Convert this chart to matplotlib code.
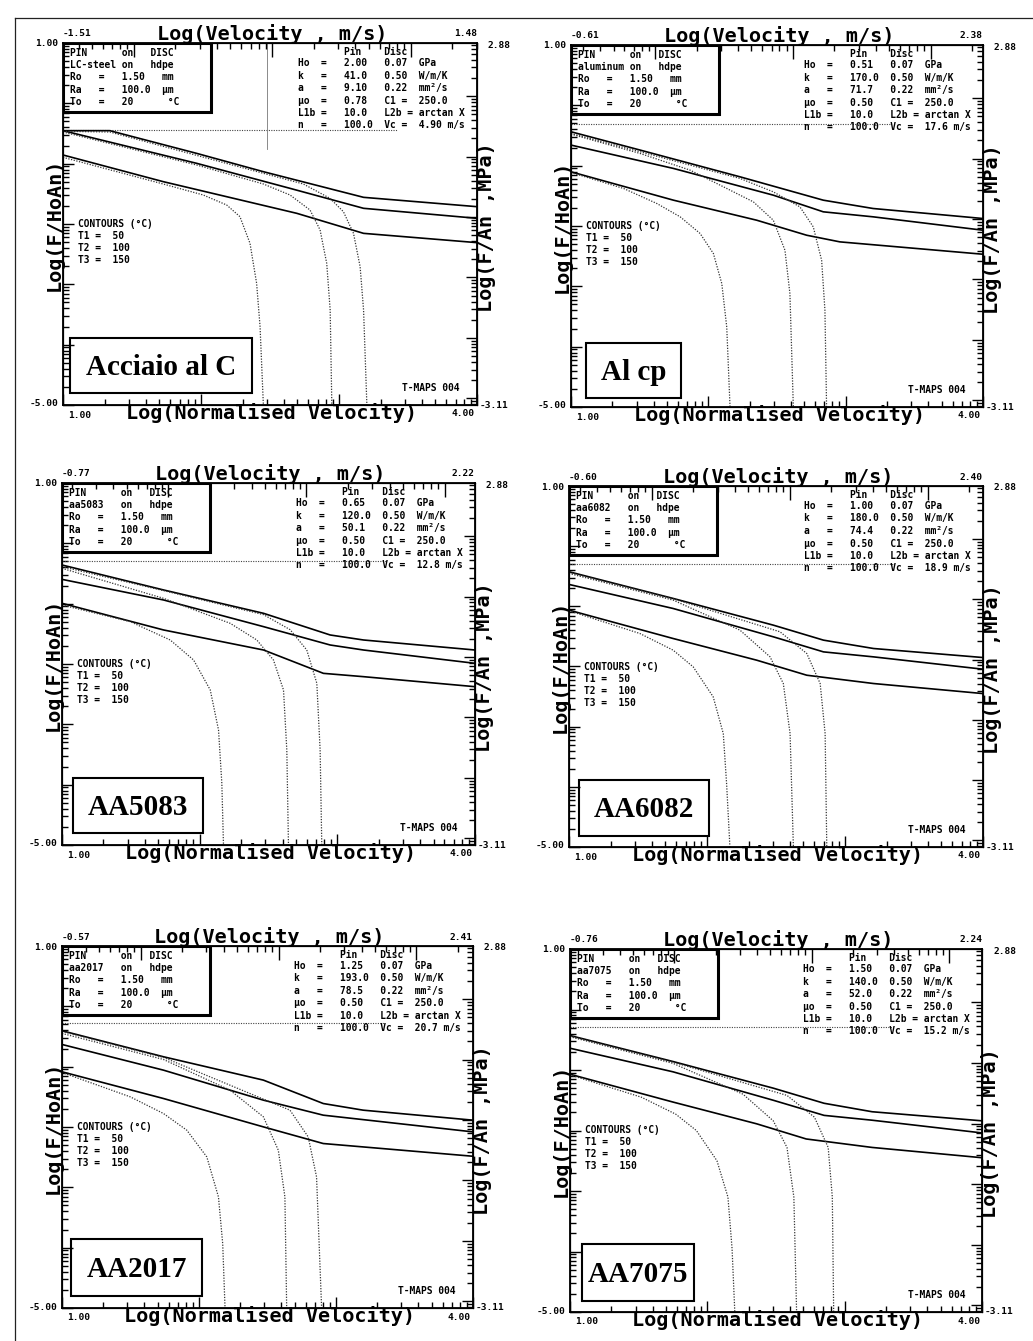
import matplotlib.pyplot as plt
import numpy as np
from matplotlib.patches import Rectangle
from matplotlib.lines import Line2D

W, H = 1033, 1341
MONO = 'DejaVu Sans Mono'
SERIF = 'Liberation Serif'

# campi degli assi (pixel: sinistra, alto, destra, basso)
boxes = [(63, 43, 477, 405), (571, 45, 983, 407),
         (62, 483, 475, 845), (569, 486, 983, 847),
         (62, 946, 473, 1308), (570, 949, 982, 1312)]

labels = ["Acciaio al C", "Al cp", "AA5083", "AA6082", "AA2017", "AA7075"]
pin_names = ["LC-steel", "aluminum", "aa5083", "aa6082", "aa2017", "aa7075"]
vel_lo = [-1.51, -0.61, -0.77, -0.60, -0.57, -0.76]
vel_hi = [1.48, 2.38, 2.22, 2.40, 2.41, 2.24]
ho = ["2.00", "0.51", "0.65", "1.00", "1.25", "1.50"]
kk = ["41.0", "170.0", "120.0", "180.0", "193.0", "140.0"]
aa = ["9.10", "71.7", "50.1", "74.4", "78.5", "52.0"]
mu = ["0.78", "0.50", "0.50", "0.50", "0.50", "0.50"]
vc = ["4.90", "17.6", "12.8", "18.9", "20.7", "15.2"]
hline_y = [-0.45, -0.31, -0.29, -0.29, -0.28, -0.29]
hline_x = [3.42, 3.32, 3.35, 3.35, 3.35, 3.35]
label_box = [(0.017, 0.033, 0.44, 0.152), (0.036, 0.025, 0.231, 0.152),
             (0.027, 0.033, 0.314, 0.152), (0.024, 0.030, 0.314, 0.155),
             (0.022, 0.033, 0.319, 0.157), (0.030, 0.030, 0.27, 0.158)]

# curve continue (isoterme) e punteggiate per ogni materiale
acc_solid_x = [[1.0, 1.339, 1.968, 2.452, 3.178, 4.0],
               [1.0, 1.968, 2.645, 3.178, 4.0],
               [1.0, 1.726, 2.694, 3.178, 4.0]]
acc_solid_y = [[-0.453, -0.453, -0.829, -1.133, -1.558, -1.713],
               [-0.453, -0.994, -1.409, -1.740, -1.906],
               [-0.856, -1.298, -1.823, -2.155, -2.309]]
acc_dot_x = [[1.0, 1.726, 2.016, 2.186, 2.282, 2.355, 2.403, 2.428, 2.452],
             [1.0, 1.968, 2.452, 2.645, 2.790, 2.863, 2.911, 2.936, 2.948],
             [1.0, 1.339, 2.452, 2.742, 2.935, 3.032, 3.105, 3.153, 3.178, 3.202]]
acc_dot_y = [[-0.895, -1.337, -1.519, -1.685, -1.878, -2.320, -2.983, -3.702, -5.0],
             [-0.475, -1.022, -1.337, -1.519, -1.768, -2.099, -2.652, -3.425, -5.0],
             [-0.464, -0.475, -1.160, -1.337, -1.575, -1.796, -2.155, -2.707, -3.425, -5.0]]

al_solid_x = [[1.0, 1.504, 2.231, 2.837, 3.200, 4.0],
              [1.0, 1.746, 2.473, 2.837, 3.200, 4.0],
              [1.0, 1.746, 2.352, 2.716, 2.958, 4.0]]
al_solid_y = [[-0.438, -0.742, -1.185, -1.572, -1.710, -1.876],
              [-0.659, -1.046, -1.489, -1.765, -1.848, -2.070],
              [-1.102, -1.572, -1.904, -2.153, -2.263, -2.468]]
al_dot_x = [[1.0, 1.383, 1.625, 1.795, 1.940, 2.037, 2.098, 2.134, 2.158],
            [1.0, 1.504, 1.867, 2.134, 2.328, 2.473, 2.558, 2.594, 2.619],
            [1.0, 1.504, 2.231, 2.473, 2.667, 2.764, 2.825, 2.849, 2.861]]
al_dot_y = [[-1.113, -1.378, -1.627, -1.848, -2.124, -2.457, -2.955, -3.674, -5.0],
            [-0.477, -0.798, -1.074, -1.378, -1.600, -1.904, -2.402, -3.121, -5.0],
            [-0.466, -0.770, -1.212, -1.434, -1.683, -2.014, -2.568, -3.397, -5.0]]

a5_solid_x = [[1.0, 1.738, 2.464, 2.948, 3.190, 4.0],
              [1.0, 1.738, 2.464, 2.948, 3.190, 4.0],
              [1.0, 1.738, 2.464, 2.899, 3.190, 4.0]]
a5_solid_y = [[-0.359, -0.773, -1.160, -1.519, -1.602, -1.768],
              [-0.597, -0.939, -1.381, -1.685, -1.768, -1.989],
              [-0.994, -1.436, -1.768, -2.155, -2.210, -2.376]]
a5_dot_x = [[1.0, 1.496, 1.786, 1.956, 2.077, 2.137, 2.161, 2.173],
            [1.0, 1.738, 2.222, 2.415, 2.536, 2.609, 2.633, 2.645],
            [1.0, 1.738, 2.464, 2.657, 2.778, 2.851, 2.875, 2.887]]
a5_dot_y = [[-1.022, -1.298, -1.602, -1.934, -2.431, -3.094, -3.978, -5.0],
            [-0.414, -0.912, -1.326, -1.602, -1.934, -2.431, -3.425, -5.0],
            [-0.387, -0.784, -1.182, -1.431, -1.768, -2.320, -3.425, -5.0]]

a6_solid_x = [[1.0, 1.755, 2.481, 2.844, 3.207, 4.0],
              [1.0, 1.755, 2.481, 2.844, 3.207, 4.0],
              [1.0, 1.755, 2.360, 2.723, 3.207, 4.0]]
a6_solid_y = [[-0.425, -0.869, -1.313, -1.562, -1.701, -1.851],
              [-0.636, -1.036, -1.507, -1.757, -1.840, -2.045],
              [-1.063, -1.535, -1.895, -2.145, -2.283, -2.450]]
a6_dot_x = [[1.0, 1.513, 1.755, 1.900, 2.045, 2.118, 2.142, 2.166],
            [1.0, 1.755, 2.239, 2.457, 2.553, 2.602, 2.626],
            [1.0, 1.755, 2.529, 2.723, 2.820, 2.856, 2.868]]
a6_dot_y = [[-1.074, -1.451, -1.729, -2.006, -2.505, -3.115, -3.947, -5.0],
            [-0.453, -0.897, -1.396, -1.840, -2.283, -3.115, -5.0],
            [-0.436, -0.875, -1.423, -1.784, -2.283, -3.115, -5.0]]

a2_solid_x = [[1.0, 1.741, 2.470, 2.907, 3.198, 4.0],
              [1.0, 1.741, 2.470, 2.907, 4.0],
              [1.0, 1.741, 2.470, 2.907, 4.0]]
a2_solid_y = [[-0.405, -0.836, -1.223, -1.611, -1.721, -1.887],
              [-0.632, -1.058, -1.555, -1.804, -2.081],
              [-1.085, -1.528, -1.998, -2.274, -2.485]]
a2_dot_x = [[1.0, 1.498, 1.741, 1.911, 2.057, 2.142, 2.173, 2.190],
            [1.0, 1.741, 2.227, 2.470, 2.579, 2.627, 2.640],
            [1.0, 1.741, 2.372, 2.664, 2.797, 2.858, 2.895]]
a2_dot_y = [[-1.096, -1.500, -1.777, -2.053, -2.496, -3.159, -3.934, -5.0],
            [-0.449, -0.881, -1.390, -1.832, -2.385, -3.159, -5.0],
            [-0.416, -0.847, -1.445, -1.721, -2.164, -2.827, -5.0]]

a7_solid_x = [[1.0, 1.75, 2.48, 2.85, 3.2, 4.0],
              [1.0, 1.75, 2.48, 2.85, 3.2, 4.0],
              [1.0, 1.75, 2.36, 2.72, 3.2, 4.0]]
a7_solid_y = [[-0.43, -0.86, -1.30, -1.55, -1.69, -1.84],
              [-0.64, -1.03, -1.50, -1.75, -1.83, -2.04],
              [-1.07, -1.53, -1.89, -2.14, -2.28, -2.45]]
a7_dot_x = [[1.0, 1.52, 1.77, 1.92, 2.07, 2.15, 2.18, 2.20],
            [1.0, 1.75, 2.26, 2.48, 2.58, 2.63, 2.65],
            [1.0, 1.75, 2.58, 2.78, 2.88, 2.91, 2.92]]
a7_dot_y = [[-1.08, -1.45, -1.73, -2.0, -2.5, -3.1, -3.95, -5.0],
            [-0.45, -0.89, -1.40, -1.84, -2.28, -3.1, -5.0],
            [-0.44, -0.87, -1.42, -1.78, -2.28, -3.1, -5.0]]

solid_x = [acc_solid_x, al_solid_x, a5_solid_x, a6_solid_x, a2_solid_x, a7_solid_x]
solid_y = [acc_solid_y, al_solid_y, a5_solid_y, a6_solid_y, a2_solid_y, a7_solid_y]
dot_x = [acc_dot_x, al_dot_x, a5_dot_x, a6_dot_x, a2_dot_x, a7_dot_x]
dot_y = [acc_dot_y, al_dot_y, a5_dot_y, a6_dot_y, a2_dot_y, a7_dot_y]


def log_ticks(lo, hi):
    major = [d for d in range(int(np.floor(lo)), int(np.ceil(hi)) + 1) if lo <= d <= hi]
    minor = []
    for d in range(int(np.floor(lo)) - 1, int(np.ceil(hi)) + 1):
        for k in range(2, 10):
            v = d + np.log10(k)
            if lo < v < hi:
                minor.append(v)
    return major, minor


def ftxt(fig, x, y, s, **kw):
    fig.text(x / W, 1 - y / H, s, **kw)


def rysuj_panel(fig, i):
    l, t, r, b = boxes[i]
    ax = fig.add_axes([l / W, 1 - b / H, (r - l) / W, (b - t) / H])
    ax.set_xlim(1, 4)
    ax.set_ylim(-5, 1)
    mj, mn = log_ticks(1, 4)
    ax.set_xticks(mj)
    ax.set_xticks(mn, minor=True)
    mj, mn = log_ticks(-5, 1)
    ax.set_yticks(mj)
    ax.set_yticks(mn, minor=True)
    ax.tick_params(which='both', direction='in', labelbottom=False, labelleft=False, width=1.0)
    ax.tick_params(which='major', length=8)
    ax.tick_params(which='minor', length=4)
    for s in ax.spines.values():
        s.set_linewidth(1.3)

    axt = ax.twiny()
    axt.set_xlim(vel_lo[i], vel_hi[i])
    mj, mn = log_ticks(vel_lo[i], vel_hi[i])
    axt.set_xticks(mj)
    axt.set_xticks(mn, minor=True)
    axt.tick_params(which='both', direction='in', labeltop=False, width=1.0)
    axt.tick_params(which='major', length=10)
    axt.tick_params(which='minor', length=4)

    axr = ax.twinx()
    axr.set_ylim(-3.11, 2.88)
    mj, mn = log_ticks(-3.11, 2.88)
    axr.set_yticks(mj)
    axr.set_yticks(mn, minor=True)
    axr.tick_params(which='both', direction='in', labelright=False, width=1.0)
    axr.tick_params(which='major', length=8)
    axr.tick_params(which='minor', length=4)

    # linee
    ax.plot([1, hline_x[i]], [hline_y[i], hline_y[i]], color='#444444', lw=0.8, ls=(0, (1, 1.2)))
    for xs, ys in zip(solid_x[i], solid_y[i]):
        ax.plot(xs, ys, color='black', lw=1.2)
    for xs, ys in zip(dot_x[i], dot_y[i]):
        ax.plot(xs, ys, color='#333333', lw=0.9, ls=(0, (1, 1.2)))
    if i == 0:
        ax.plot([2.48, 2.48], [1.0, -0.75], color='#777777', lw=0.6)

    # riquadro materiale
    bx, by, bw, bh = label_box[i]
    ax.add_patch(Rectangle((bx, by), bw, bh, transform=ax.transAxes, fill=False, lw=1.5, ec='black', zorder=5))
    ax.text(bx + bw / 2, by + bh / 2 - 0.005, labels[i], transform=ax.transAxes, ha='center', va='center',
            fontsize=21, fontweight='bold', family=SERIF, zorder=6)

    # riquadro pin/disc
    ax.add_patch(Rectangle((0, 1 - 69 / (b - t)), 148 / (r - l), 69 / (b - t), transform=ax.transAxes,
                           fill=False, lw=2.2, ec='black', zorder=5))
    fs = 6.9
    kw = dict(family=MONO, fontweight='bold', fontsize=fs, va='center', ha='left')
    left_rows = ["PIN      on   DISC",
                 "%-8s on   hdpe" % pin_names[i],
                 "Ro   =   1.50   mm",
                 "Ra   =   100.0  µm",
                 "To   =   20      °C"]
    for j, s in enumerate(left_rows):
        ftxt(fig, l + 7, t + 10 + j * 12.2, s, **kw)

    right_rows = ["        Pin    Disc",
                  "Ho  =   %-5s  0.07  GPa" % ho[i],
                  "k   =   %-5s  0.50  W/m/K" % kk[i],
                  "a   =   %-5s  0.22  mm²/s" % aa[i],
                  "µo  =   %-5s  C1 =  250.0" % mu[i],
                  "L1b =   10.0   L2b = arctan X",
                  "n   =   100.0  Vc =  %s m/s" % vc[i]]
    ys_r = [t + 9, t + 20, t + 32.5, t + 45, t + 57.5, t + 70, t + 82]
    for j, s in enumerate(right_rows):
        ftxt(fig, r - 179, ys_r[j], s, **kw)

    ftxt(fig, l + 15, t + 181, "CONTOURS (°C)", **kw)
    for j, s in enumerate(["T1 =  50", "T2 =  100", "T3 =  150"]):
        ftxt(fig, l + 15, t + 193 + j * 12, s, **kw)
    ftxt(fig, r - 17, b - 17, "T-MAPS 004", family=MONO, fontweight='bold', fontsize=fs, va='center', ha='right')

    # etichette degli assi
    big = dict(family=MONO, fontweight='bold', fontsize=14.5, va='center', ha='center')
    ftxt(fig, (l + r) / 2 + 2, t - 9, "Log(Velocity , m/s)", **big)
    ftxt(fig, (l + r) / 2 + 2, b + 8, "Log(Normalised Velocity)", **big)
    ftxt(fig, l - 9, (t + b) / 2, "Log(F/HoAn)", rotation=90, **big)
    ftxt(fig, r + 9, (t + b) / 2 + 3, "Log(F/An ,MPa)", rotation=90, **big)

    sm = dict(family=MONO, fontweight='bold', fontsize=6.8, va='center')
    ftxt(fig, l, t - 9, "%.2f" % vel_lo[i], ha='left', **sm)
    ftxt(fig, r, t - 9, "%.2f" % vel_hi[i], ha='right', **sm)
    ftxt(fig, l - 5, t + 1, "1.00", ha='right', **sm)
    ftxt(fig, r + 11, t + 2, "2.88", ha='left', **sm)
    ftxt(fig, l - 5, b - 1, "-5.00", ha='right', **sm)
    ftxt(fig, r + 3, b, "-3.11", ha='left', **sm)
    ftxt(fig, l + 5, b + 10, "1.00", ha='left', **sm)
    ftxt(fig, r - 2, b + 9, "4.00", ha='right', **sm)


def main():
    fig = plt.figure(figsize=(W / 100, H / 100), dpi=100)
    fig.patch.set_facecolor('white')
    # cornice della pagina scansionata
    fig.add_artist(Line2D([15 / W, 15 / W], [0, 1 - 18 / H], color='#222222', lw=0.9))
    fig.add_artist(Line2D([15 / W, 1], [1 - 18 / H, 1 - 18 / H], color='#222222', lw=0.9))
    for i in range(6):
        rysuj_panel(fig, i)
    fig.savefig("out.png", dpi=100)


if __name__ == "__main__":
    main()
